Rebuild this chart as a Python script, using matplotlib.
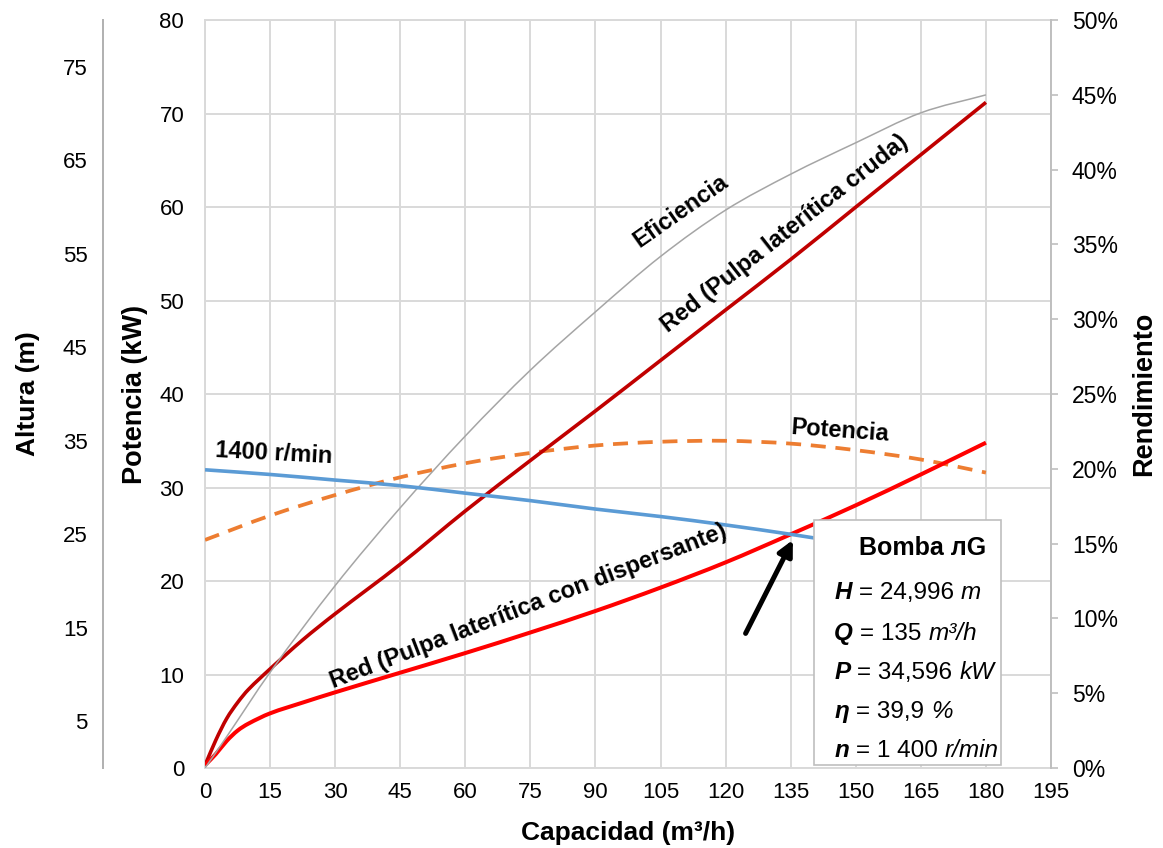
import matplotlib

matplotlib.use("Agg")
import matplotlib.pyplot as plt
import numpy as np
from matplotlib.offsetbox import AnnotationBbox, HPacker, TextArea
from matplotlib.patches import PathPatch, Rectangle
from matplotlib.path import Path
from matplotlib.ticker import FuncFormatter


# pump curves, every 15 m3/h
CAPACIDAD = [0, 15, 30, 45, 60, 75, 90, 105, 120, 135, 150, 165, 180]
ALTURA_1400 = [31.9, 31.4, 30.8, 30.2, 29.4, 28.6, 27.7, 26.9, 26.0, 25.0, 23.9, 22.8, 21.6]
POTENCIA = [24.4, 27.0, 29.2, 31.1, 32.6, 33.7, 34.5, 34.9, 35.0, 34.7, 34.0, 33.0, 31.6]

Q_EFICIENCIA = [0, 5, 15, 30, 45, 60, 75, 90, 105, 120, 135, 150, 165, 180]
EFICIENCIA = [0.0, 2.1, 6.4, 12.2, 17.4, 22.2, 26.6, 30.5, 34.2, 37.3, 39.7, 41.8, 43.8, 45.0]

# system curves (red)
Q_RED = [0, 2.5, 5, 7.5, 10, 15, 22.5, 30, 45, 60, 75, 90, 105, 120, 135, 150, 165, 180]
RED_CRUDA = [0.3, 3.0, 5.3, 7.0, 8.4, 10.6, 13.7, 16.5, 21.8, 27.5, 32.9, 38.2, 43.6, 49.0, 54.4, 60.0, 65.6, 71.2]
RED_DISPERSANTE = [0.3, 1.5, 2.9, 4.0, 4.75, 5.85, 7.0, 8.1, 10.2, 12.3, 14.5, 16.8, 19.3, 22.0, 25.0, 28.1, 31.4, 34.8]

X_TICKS = list(range(0, 196, 15))
POT_TICKS = list(range(0, 81, 10))
ALT_TICKS = list(range(5, 80, 10))
REND_TICKS = list(range(0, 51, 5))

# operating point
PUNTO_Q = 135
PUNTO_H = 24.996
CAJA_LINEAS = [
    ("H", "= 24,996", "m"),
    ("Q", "= 135", "m³/h"),
    ("P", "= 34,596", "kW"),
    ("η", "= 39,9", "%"),
    ("n", "= 1 400", "r/min"),
]

COL_ALTURA = "#5B9BD5"
COL_POTENCIA = "#ED7D31"
COL_EFIC = "#A5A5A5"
COL_CRUDA = "#C00000"
COL_DISP = "#FF0000"
COL_GRID = "#D9D9D9"
COL_SPINE = "#BFBFBF"

FONT = "Liberation Sans"


def smooth_path(xs, ys) -> Path:
    # piecewise cubic hermite through the points, like excel's smoothed lines
    x = np.asarray(xs, dtype=float)
    y = np.asarray(ys, dtype=float)
    m = np.empty_like(y)
    m[0] = (y[1] - y[0]) / (x[1] - x[0])
    m[-1] = (y[-1] - y[-2]) / (x[-1] - x[-2])
    m[1:-1] = (y[2:] - y[:-2]) / (x[2:] - x[:-2])
    verts = [(x[0], y[0])]
    codes = [Path.MOVETO]
    for i in range(len(x) - 1):
        h = x[i + 1] - x[i]
        verts += [
            (x[i] + h / 3, y[i] + m[i] * h / 3),
            (x[i + 1] - h / 3, y[i + 1] - m[i + 1] * h / 3),
            (x[i + 1], y[i + 1]),
        ]
        codes += [Path.CURVE4] * 3
    return Path(verts, codes)


def add_curve(ax, xs, ys, color, lw, ls="-", zorder=3):
    patch = PathPatch(smooth_path(xs, ys), fill=False, edgecolor=color, linewidth=lw,
                      linestyle=ls, zorder=zorder, capstyle="butt", joinstyle="round")
    ax.add_patch(patch)


def main() -> None:
    plt.rcParams["font.family"] = [FONT, "DejaVu Sans"]

    fig = plt.figure(figsize=(11.63, 8.48), dpi=100)
    ax = fig.add_axes([0.1763, 0.0943, 0.7274, 0.882])
    axr = ax.twinx()
    ax_alt = ax.twinx()

    # main (Potencia) axis
    ax.set_xlim(0, 195)
    ax.set_ylim(0, 80)
    ax.set_xticks(X_TICKS)
    ax.set_yticks(POT_TICKS)
    ax.tick_params(axis="both", length=0, labelsize=16)
    ax.tick_params(axis="y", pad=15)
    ax.tick_params(axis="x", pad=10)
    ax.grid(True, color=COL_GRID, linewidth=1.4, zorder=0)
    ax.set_axisbelow(True)
    for side in ("left", "bottom", "top"):
        ax.spines[side].set_color(COL_GRID)
        ax.spines[side].set_linewidth(1.4)
    ax.spines["right"].set_visible(False)
    ax.set_ylabel("Potencia (kW)", fontsize=19.5, fontweight="bold")
    ax.yaxis.set_label_coords(-0.068, 0.5)
    ax.set_xlabel("Capacidad (m³/h)", fontsize=19, fontweight="bold")
    ax.xaxis.set_label_coords(0.5, -0.071)

    # right (Rendimiento) axis
    axr.set_ylim(0, 50)
    axr.set_yticks(REND_TICKS)
    axr.yaxis.set_major_formatter(FuncFormatter(lambda v, _: f"{v:.0f}%"))
    axr.tick_params(axis="y", length=5, width=1.2, color=COL_SPINE, pad=10, labelsize=16.5)
    for side in ("left", "bottom", "top"):
        axr.spines[side].set_visible(False)
    axr.spines["right"].set_color(COL_SPINE)
    axr.spines["right"].set_linewidth(1.4)
    axr.set_ylabel("Rendimiento", fontsize=19.5, fontweight="bold")
    axr.yaxis.set_label_coords(1.095, 0.5)

    # far-left (Altura) axis
    ax_alt.set_ylim(0, 80)
    ax_alt.set_xlim(0, 195)
    ax_alt.yaxis.set_ticks_position("left")
    ax_alt.yaxis.set_label_position("left")
    ax_alt.set_yticks(ALT_TICKS)
    ax_alt.tick_params(axis="y", length=0, pad=11, labelsize=16)
    for side in ("right", "bottom", "top"):
        ax_alt.spines[side].set_visible(False)
    ax_alt.spines["left"].set_visible(True)
    ax_alt.spines["left"].set_position(("axes", -0.1206))
    ax_alt.spines["left"].set_color("#B0B0B0")
    ax_alt.spines["left"].set_linewidth(1.4)
    ax_alt.set_ylabel("Altura (m)", fontsize=19, fontweight="bold")
    ax_alt.yaxis.set_label_coords(-0.195, 0.5)

    # curves
    add_curve(ax, CAPACIDAD, POTENCIA, COL_POTENCIA, 2.7, ls=(0, (4, 2.6)))
    add_curve(ax, Q_RED, RED_CRUDA, COL_CRUDA, 2.6)
    add_curve(ax, Q_RED, RED_DISPERSANTE, COL_DISP, 2.9, zorder=4)
    add_curve(axr, Q_EFICIENCIA, EFICIENCIA, COL_EFIC, 1.1)
    add_curve(ax_alt, CAPACIDAD, ALTURA_1400, COL_ALTURA, 2.6)

    # curve labels
    lab = dict(fontsize=17, fontweight="bold", ha="center", va="center", zorder=6)
    ax_alt.text(15.9, 33.6, "1400 r/min", rotation=-3, **lab)
    ax_alt.text(146.3, 36.1, "Potencia", rotation=-4, **lab)
    ax_alt.text(109.6, 59.6, "Eficiencia", rotation=35, **lab)
    ax_alt.text(133.6, 57.2, "Red (Pulpa laterítica cruda)", rotation=38, **lab)
    ax_alt.text(74.5, 17.3, "Red (Pulpa laterítica con dispersante)", rotation=21, **lab)

    # arrow to the operating point
    ax_alt.annotate(
        "",
        xy=(PUNTO_Q + 0.5, PUNTO_H - 0.6),
        xytext=(124.6, 14.4),
        arrowprops=dict(arrowstyle="-|>,head_length=0.9,head_width=0.45", lw=3.6,
                        color="black", shrinkA=0, shrinkB=0),
        zorder=7,
    )

    # info box
    box = Rectangle((140.3, 0.3), 43.2, 26.2, facecolor="white", edgecolor=COL_SPINE,
                    linewidth=1.2, zorder=10)
    ax_alt.add_patch(box)
    ax_alt.text(165.3, 23.5, "Bomba лG", fontsize=18, fontweight="bold",
                ha="center", va="center", zorder=11)
    line_y = [18.8, 14.4, 10.2, 6.0, 1.9]
    for (sym, val, unit), yy in zip(CAJA_LINEAS, line_y):
        parts = HPacker(
            children=[
                TextArea(sym, textprops=dict(fontsize=17.5, fontweight="bold", fontstyle="italic")),
                TextArea(val, textprops=dict(fontsize=17.5)),
                TextArea(unit, textprops=dict(fontsize=17.5, fontstyle="italic")),
            ],
            sep=5,
            align="baseline",
            pad=0,
        )
        ab = AnnotationBbox(parts, (145.0, yy), xycoords="data", box_alignment=(0, 0.5),
                            frameon=False, pad=0, zorder=11)
        ax_alt.add_artist(ab)

    fig.savefig("out.png", dpi=100)
    plt.close(fig)


if __name__ == "__main__":
    main()
